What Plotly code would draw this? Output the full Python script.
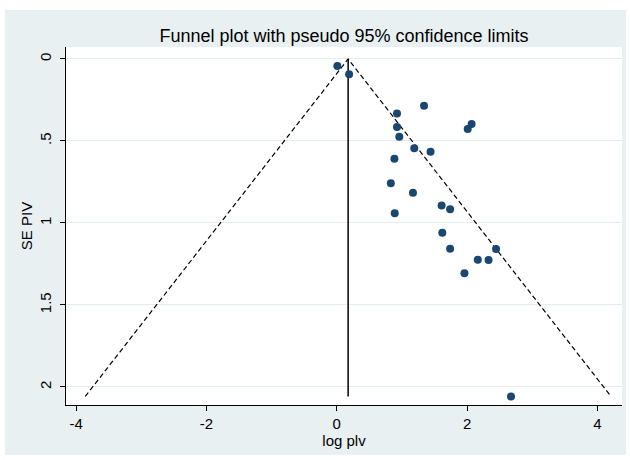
import plotly.graph_objects as go

# Study estimates
log_plv = [0.01, 0.19, 1.34, 0.925, 2.07, 2.01, 0.925, 0.96, 1.19, 1.44, 0.885,
           0.83, 1.17, 0.89, 1.61, 1.74, 1.62, 1.74, 2.445, 2.165, 2.33, 1.96, 2.675]
se_piv = [0.043, 0.093, 0.285, 0.333, 0.396, 0.427, 0.415, 0.474, 0.545, 0.565, 0.608,
          0.758, 0.815, 0.941, 0.894, 0.917, 1.059, 1.157, 1.159, 1.224, 1.226, 1.307, 2.058]

# Pooled estimate and pseudo 95% limits
pooled_x = [0.175, 0.175]
pooled_se = [0.0, 2.058]
funnel_x = [-3.86, 0.175, 4.21]
funnel_se = [2.058, 0.0, 2.058]

x_ticks = [-4, -2, 0, 2, 4]
x_tick_text = ["-4", "-2", "0", "2", "4"]
y_ticks = [0, 0.5, 1, 1.5, 2]
y_tick_text = ["0", ".5", "1", "1.5", "2"]

title_text = "Funnel plot with pseudo 95% confidence limits"
x_title = "log plv"
y_title = "SE PIV"

FONT = "Liberation Sans, Arial, sans-serif"
BG = "#E8F0F2"
NAVY = "#1a476f"

fig = go.Figure()
fig.add_trace(go.Scatter(x=funnel_x, y=funnel_se, mode="lines",
                         line=dict(color="black", width=1.2, dash="5px,3px"),
                         hoverinfo="skip", showlegend=False))
fig.add_trace(go.Scatter(x=pooled_x, y=pooled_se, mode="lines",
                         line=dict(color="black", width=1.5),
                         hoverinfo="skip", showlegend=False))
fig.add_trace(go.Scatter(x=log_plv, y=se_piv, mode="markers",
                         marker=dict(color=NAVY, size=8, line=dict(width=0)),
                         showlegend=False))

L, R, T, B = 66, 8, 47, 55
W, H = 630, 460
pw, ph = W - L - R, H - T - B

def px_x(p):
    return (p - L) / pw

def px_y(p):
    return (H - B - p) / ph

white_strips = []
for (x0, x1, y0, y1) in [(0, W, 0, 10), (0, W, 455, H), (0, 5, 0, H), (626, W, 0, H)]:
    white_strips.append(dict(type="rect", xref="paper", yref="paper", layer="above",
                             x0=px_x(x0), x1=px_x(x1), y0=px_y(y1), y1=px_y(y0),
                             fillcolor="white", line=dict(width=0)))

fig.update_layout(
    width=W, height=H,
    margin=dict(l=L, r=R, t=T, b=B, pad=0),
    paper_bgcolor=BG,
    plot_bgcolor="white",
    font=dict(family=FONT, color="black", size=15),
    title=dict(text=title_text, x=0.5, xref="paper", xanchor="center",
               y=1 - 36 / H, yanchor="middle", font=dict(size=18, family=FONT, color="black")),
    shapes=white_strips,
    xaxis=dict(range=[-4.155, 4.378], tickvals=x_ticks, ticktext=x_tick_text,
               showgrid=False, zeroline=False, showline=True, linecolor="black", linewidth=1,
               ticks="outside", ticklen=5, tickcolor="black",
               title=dict(text=x_title, standoff=1, font=dict(size=15)),
               tickfont=dict(size=15)),
    yaxis=dict(range=[2.110, -0.073], tickvals=y_ticks, ticktext=y_tick_text,
               showgrid=True, gridcolor="#E4ECEF", gridwidth=1,
               zeroline=False, showline=True, linecolor="black", linewidth=1,
               ticks="outside", ticklen=5, tickcolor="black", tickangle=-90,
               ticklabelstandoff=3,
               title=dict(text=y_title, standoff=0, font=dict(size=15)),
               tickfont=dict(size=15)),
)

fig.write_html("out.html", config={"displayModeBar": False},
               post_script="document.body.style.margin='0px';")
